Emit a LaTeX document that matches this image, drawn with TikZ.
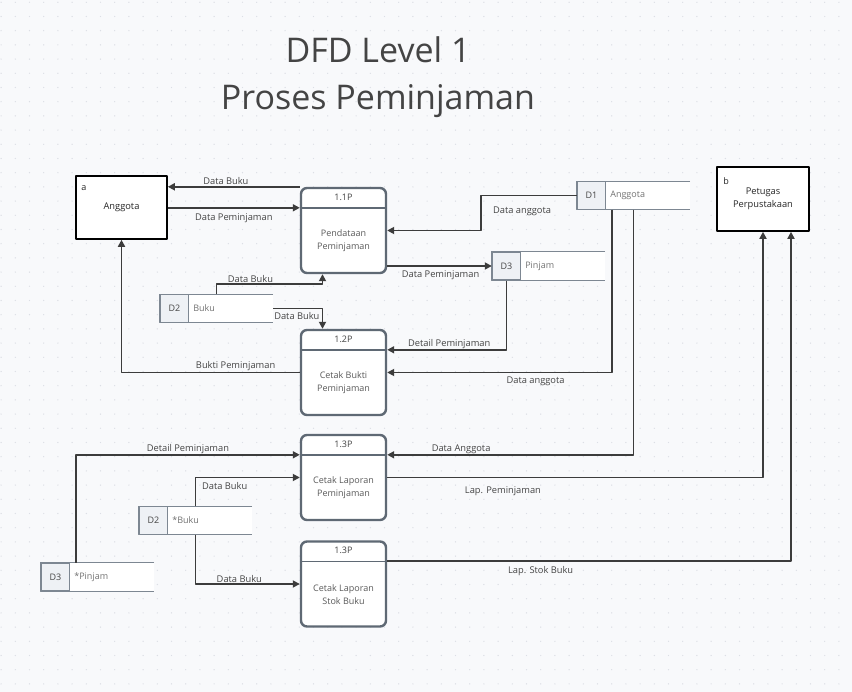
\documentclass[tikz,border=0pt]{standalone}
\usepackage{fontspec}
\setmainfont{Open Sans}
\usetikzlibrary{arrows.meta}
\definecolor{bgc}{HTML}{F8F9FB}
\definecolor{dotc}{HTML}{DCDFE5}
\definecolor{flowc}{HTML}{3C3C3C}
\definecolor{procc}{HTML}{5F6974}
\definecolor{storec}{HTML}{7D8792}
\definecolor{storefill}{HTML}{EEF1F5}
\definecolor{txtc}{HTML}{444444}
\definecolor{softtxt}{HTML}{5A5A5A}
\begin{document}
\begin{tikzpicture}[x=1pt,y=-1pt,>={Triangle[length=7pt,width=7pt]},line join=round,
	entity/.style={draw=black,line width=1.6pt,fill=white,minimum width=91pt,minimum height=63pt,inner sep=0pt,align=center,text=black!85,font=\fontsize{9.3}{13}\selectfont},
	proc/.style={draw=procc,line width=2.4pt,fill=white,rounded corners=6pt,minimum width=85pt,minimum height=85pt,inner sep=0pt},
	procline/.style={draw=procc,line width=1.6pt},
	proctitle/.style={text=txtc,font=\fontsize{9}{11}\selectfont},
	proctext/.style={text=softtxt,align=center,font=\fontsize{9}{13}\selectfont},
	store/.style={fill=white,minimum width=113pt,minimum height=28pt,inner sep=0pt},
	storeline/.style={draw=storec,line width=1.3pt},
	storeid/.style={draw=storec,line width=1.3pt,fill=storefill,minimum width=28pt,minimum height=28pt,inner sep=0pt,text=txtc,font=\fontsize{9}{11}\selectfont},
	storelabel/.style={text=black!55,inner sep=4pt,font=\fontsize{9}{11}\selectfont},
	flow/.style={->,draw=flowc,line width=1.7pt},
	lbl/.style={text=txtc,inner sep=1.5pt,font=\fontsize{9.3}{11}\selectfont}]
	\useasboundingbox (0,0) rectangle (852,692);
	\fill[bgc] (0,0) rectangle (852,692);
	\foreach \i in {0,...,59} \foreach \j in {0,...,48} \fill[dotc] (1.1+14.2*\i,2.3+14.2*\j) circle (0.7pt);
	% title
	\node[text=txtc,align=center,font=\fontsize{34}{47}\selectfont] (title) at (378,77) {DFD Level 1\\Proses Peminjaman};
	% external entities
	\node[entity] (ang) at (121.5,207.5) {Anggota};
	\node[entity,minimum width=92pt,minimum height=64pt] (pet) at (763,199) {Petugas\\Perpustakaan};
	\node[text=black!85,anchor=base west,inner sep=0pt,font=\fontsize{9}{11}\selectfont] (anga) at ([shift={(6pt,-15pt)}]ang.north west) {a};
	\node[text=black!85,anchor=base west,inner sep=0pt,font=\fontsize{9}{11}\selectfont] (petb) at ([shift={(7pt,-18pt)}]pet.north west) {b};
	% processes
	\foreach \n/\x/\y/\id/\lab in {p11/343.5/230.5/1.1P/{Pendataan\\Peminjaman},p12/343.5/372.5/1.2P/{Cetak Bukti\\Peminjaman},p13a/343.5/477.5/1.3P/{Cetak Laporan\\Peminjaman},p13b/343.5/584/1.3P/{Cetak Laporan\\Stok Buku}}{
		\node[proc] (\n) at (\x,\y) {};
		\coordinate (h\n) at ([yshift=-21pt]\n.north);
		\draw[procline] (h\n -| \n.west) -- (h\n -| \n.east);
		\node[proctitle] (\n id) at ([yshift=-10.5pt]\n.north) {\id};
		\node[proctext] (\n txt) at ([yshift=-10.5pt]\n.center) {\lab};
	}
	% data stores
	\foreach \n/\x/\y/\id/\lab in {d1/633.5/195.5/D1/Anggota,d3/548.5/266/D3/Pinjam,d2/216.5/308.5/D2/Buku,d2b/195.5/520.5/D2/*Buku,d3b/97.5/577/D3/*Pinjam}{
		\node[store] (\n) at (\x,\y) {};
		\draw[storeline] (\n.north east) -- (\n.north west) -- (\n.south west) -- (\n.south east);
		\node[storeid,anchor=west] (\n id) at (\n.west) {\id};
		\node[storelabel,anchor=west] (\n lab) at (\n id.east) {\lab};
	}
	% flows
	\draw[flow] (p11.north west) -- (p11.north west -| ang.east) node[lbl,pos=0.56,above=-0.5pt] (l1) {Data Buku};
	\draw[flow] (ang.east |- hp11) -- (p11.west |- hp11) node[lbl,pos=0.5,below=4pt] (l2) {Data Peminjaman};
	\draw[flow] (d1.west) -- ++(-96,0) node[lbl,pos=0.57,below=9pt] (l3) {Data anggota} |- (p11.east);
	\draw[flow] (d3.west -| p11.east) -- (d3.west) node[lbl,pos=0.51,below=2pt] (l4) {Data Peminjaman};
	\draw[flow] (d2.north) -- ++(0,-10) -| ([xshift=-21pt]p11.south) node[lbl,pos=0.16,above=-0.5pt] (l5) {Data Buku};
	\draw[flow] (d2.east) -| ([xshift=-21pt]p12.north) node[lbl,pos=0.24,below=1.5pt] (l6) {Data Buku};
	\draw[flow] (d3id.south) |- (p12.east |- hp12) node[lbl,pos=0.74,above=-1pt] (l7) {Detail Peminjaman};
	\draw[flow] ([xshift=-21.5pt]d1.south) |- (p12.east) node[lbl,pos=0.67,below=2pt] (l8) {Data anggota};
	\draw[flow] (p12.west) -| (ang.south) node[lbl,pos=0.18,above=-0.5pt] (l9) {Bukti Peminjaman};
	\draw[flow] (d1.south) |- (p13a.east |- hp13a) node[lbl,pos=0.85,above=-1.5pt] (l10) {Data Anggota};
	\draw[flow] (p13a.east) -| (pet.south) node[lbl,pos=0.154,below=7pt] (l11) {Lap. Peminjaman};
	\draw[flow] (p13b.east |- hp13b) -| ([xshift=28pt]pet.south) node[lbl,pos=0.19,below=3pt] (l12) {Lap. Stok Buku};
	\draw[flow] ([xshift=-21.5pt]d3b.north) |- (p13a.west |- hp13a) node[lbl,pos=0.75,above=-1.5pt] (l13) {Detail Peminjaman};
	\draw[flow] (d2b.north) |- (p13a.west) node[lbl,pos=0.64,below=3pt] (l14) {Data Buku};
	\draw[flow] (d2b.south) |- (p13b.west) node[lbl,pos=0.71,above=-0.5pt] (l15) {Data Buku};
\end{tikzpicture}
\end{document}
